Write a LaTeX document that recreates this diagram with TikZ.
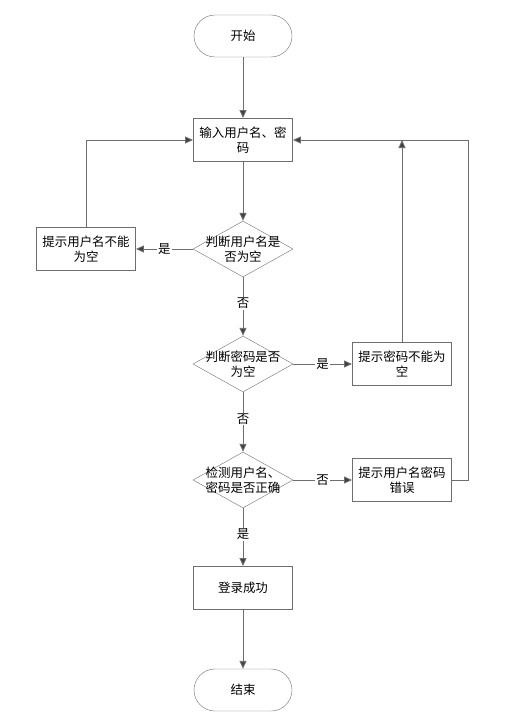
\documentclass[tikz,border=0pt]{standalone}
\usepackage{fontspec}
\newfontfamily\cjk{Noto Sans CJK SC}
\usepackage{tikz}
\usetikzlibrary{arrows.meta, shapes.geometric}
\definecolor{edgegray}{HTML}{6E6E6E}
\definecolor{tipgray}{HTML}{404040}

\begin{document}
\begin{tikzpicture}[
  x=1bp,
  y=-1bp,
  line join=miter,
  terminal/.style={
    draw=edgegray,
    rounded corners=21bp,
    minimum width=98bp,
    minimum height=42bp,
    font=\cjk\fontsize{12.5}{15}\selectfont,
    inner sep=2pt
  },
  process/.style={
    draw=edgegray,
    line width=0.9pt,
    minimum width=99bp,
    minimum height=43bp,
    text width=92bp,
    align=center,
    font=\cjk\fontsize{12.5}{15}\selectfont,
    inner sep=2pt
  },
  decision/.style={
    draw=edgegray,
    diamond,
    aspect=1.78,
    minimum width=100bp,
    minimum height=56bp,
    inner sep=0pt
  },
  dtext/.style={
    align=center,
    font=\cjk\fontsize{12.5}{15}\selectfont
  },
  flow/.style={
    -{Triangle[length=8bp,width=7bp,fill=tipgray]},
    line width=0.9pt,
    draw=edgegray
  },
  answer/.style={
    fill=white,
    inner sep=1pt,
    font=\cjk\fontsize{12.5}{15}\selectfont
  }
]
\useasboundingbox (0,0) rectangle (521,722);

% ------------------------------------------------
% Main column
% ------------------------------------------------
\node[terminal] (start) at (243,36) {开始};

\node[process] (input) at (243,140) {输入用户名、密\\码};

\node[decision,label={[dtext]center:判断用户名是\\否为空}] (chkname) at (243,249) {};

\node[decision,label={[dtext]center:判断密码是否\\为空}] (chkpwd) at (243,364) {};

\node[decision,label={[dtext]center:检测用户名、\\密码是否正确}] (verify) at (243,480) {};

\node[process] (success) at (243,588) {登录成功};

\node[terminal] (stop) at (243,690) {结束};

% ------------------------------------------------
% Side boxes
% ------------------------------------------------
\node[process] (nameempty) at (86,249) {提示用户名不能\\为空};

\node[process] (pwdempty) at (402,364) {提示密码不能为\\空};

\node[process] (wrong) at (402,480) {提示用户名密码\\错误};

\coordinate (loopin) at (402,140);
\coordinate (rightturn) at (468,480);

% Main flow.
\draw[flow] (start) -- (input);
\draw[flow] (input) -- (chkname);
\draw[flow] (chkname) -- node[answer,pos=0.45] {否} (chkpwd);
\draw[flow] (chkpwd) -- node[answer,pos=0.45] {否} (verify);
\draw[flow] (verify) -- node[answer,pos=0.45] {是} (success);
\draw[flow] (success) -- (stop);

% Branches to the side.
\draw[flow] (chkname) -- node[answer] {是} (nameempty);
\draw[flow] (chkpwd) -- node[answer] {是} (pwdempty);
\draw[flow] (verify) -- node[answer] {否} (wrong);

% Back to the input box.
\draw[flow] (nameempty.north) |- (input.west);
\draw[flow] (pwdempty.north) -- (loopin);
\draw[flow] (wrong.east) -- (rightturn) |- (input.east);

\end{tikzpicture}
\end{document}
